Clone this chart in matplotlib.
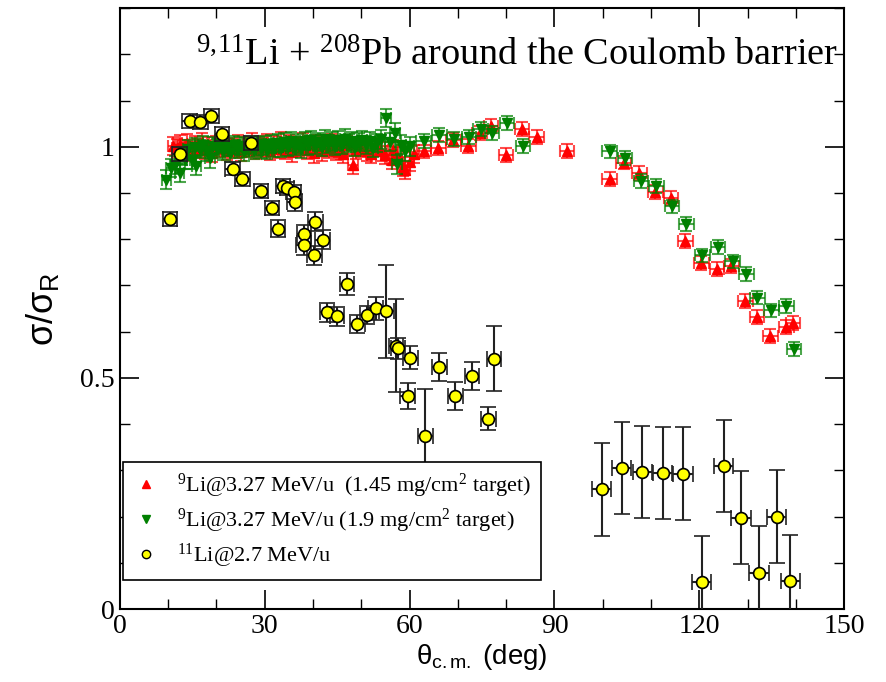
import numpy as np
import matplotlib
matplotlib.use("Agg")
import matplotlib.pyplot as plt
from matplotlib.lines import Line2D
from matplotlib.ticker import MultipleLocator, FixedLocator

plt.rcParams["font.family"] = ["Liberation Serif", "DejaVu Serif"]
plt.rcParams["mathtext.fontset"] = "custom"
plt.rcParams["mathtext.rm"] = "Liberation Serif"
plt.rcParams["mathtext.it"] = "Liberation Serif:italic"
plt.rcParams["mathtext.bf"] = "Liberation Serif:bold"
plt.rcParams["mathtext.sf"] = "Liberation Sans"

# 9Li @ 3.27 MeV/u, 1.45 mg/cm2 target
red_theta = [
    11.0, 11.8, 12.5, 13.3, 14.0, 14.8, 15.5, 16.2, 17.0, 17.7, 18.5, 19.2,
    20.0, 20.7, 21.5, 22.2, 23.0, 23.7, 24.5, 25.2, 26.0, 26.7, 27.5, 28.2,
    29.0, 29.7, 30.5, 31.2, 32.0, 32.7, 33.5, 34.2, 35.0, 35.7, 36.5, 37.2,
    38.0, 38.7, 39.5, 40.2, 41.0, 41.8, 42.5, 43.3, 44.0, 44.8, 45.5, 46.3,
    47.0, 48.3, 49.0, 50.0, 51.2, 52.0, 53.0, 54.2, 55.0, 56.3, 56.6, 57.5,
    58.6, 59.0, 60.0, 61.0, 63.0, 66.0, 69.1, 72.2, 74.5, 76.9, 80.0, 83.3,
    86.3, 92.6, 101.4, 104.3, 107.6, 110.9, 114.1, 117.1, 120.4, 123.6,
    126.6, 129.5, 131.9, 134.7, 138.0, 139.4,
]
red_sigma = [
    1.002, 0.998, 1.005, 0.995, 1.008, 0.990, 1.003, 0.996, 1.010, 0.993, 1.001, 0.987,
    1.004, 0.997, 1.009, 0.992, 1.000, 0.995, 1.006, 0.989, 1.002, 0.998, 1.011, 0.994,
    1.003, 0.999, 1.007, 0.991, 1.004, 0.996, 1.012, 0.993, 1.005, 0.988, 1.002, 0.997,
    1.009, 0.994, 1.003, 0.986, 1.006, 0.990, 1.001, 0.995, 1.008, 0.992, 0.999, 0.985,
    1.004, 0.961, 0.994, 0.998, 0.990, 0.985, 1.000, 0.990, 0.982, 0.972, 0.994, 0.980,
    0.957, 0.950, 0.968, 0.985, 0.990, 0.997, 1.015, 1.001, 1.030, 1.045, 0.983, 1.038,
    1.022, 0.991, 0.930, 0.966, 0.943, 0.903, 0.890, 0.797, 0.748, 0.735,
    0.742, 0.667, 0.631, 0.591, 0.610, 0.618,
]

# 9Li @ 3.27 MeV/u, 1.9 mg/cm2 target
green_theta = [
    9.7, 10.7, 11.4, 12.4, 13.0, 13.5, 14.2, 14.9, 15.5, 15.9, 16.6, 17.3,
    18.0, 18.7, 19.4, 20.1, 20.8, 21.5, 22.2, 22.9, 23.6, 24.3, 25.0, 25.7,
    26.4, 27.1, 27.8, 28.5, 29.2, 29.9, 30.6, 31.3, 32.0, 32.7, 33.4, 34.1,
    34.8, 35.5, 36.2, 36.9, 37.6, 38.3, 39.0, 39.7, 40.4, 41.1, 41.8, 42.5,
    43.2, 43.9, 44.6, 45.3, 46.0, 46.7, 47.4, 48.1, 48.8, 49.5, 50.2, 51.0,
    51.8, 52.5, 53.3, 54.0, 55.2, 56.0, 57.0, 57.4, 58.2, 59.0, 60.0, 62.9,
    66.2, 69.3, 72.3, 74.7, 77.1, 80.2, 83.5, 101.4, 104.6, 107.9, 111.1,
    114.3, 117.3, 120.6, 123.9, 126.9, 129.7, 132.0, 134.9, 138.0, 139.6,
]
green_sigma = [
    0.929, 0.954, 0.961, 0.943, 0.980, 0.972, 0.995, 0.972, 1.000, 0.958, 0.995, 1.003,
    0.990, 0.975, 1.002, 0.996, 1.006, 0.992, 1.000, 0.987, 1.004, 0.995, 1.002, 0.990,
    0.999, 1.004, 0.993, 1.001, 0.996, 1.003, 0.994, 1.006, 0.998, 1.008, 0.997, 1.010,
    1.000, 1.012, 1.002, 1.007, 0.996, 1.013, 1.003, 1.015, 1.005, 1.011, 1.000, 1.016,
    1.006, 1.012, 1.002, 1.014, 1.004, 1.018, 1.008, 1.013, 1.000, 1.010, 1.015, 1.004,
    1.012, 0.998, 1.008, 1.016, 1.062, 1.010, 1.031, 0.962, 1.005, 0.990, 1.001, 1.012,
    1.026, 1.017, 1.022, 1.038, 1.030, 1.051, 1.001, 0.990, 0.975, 0.926, 0.916,
    0.871, 0.833, 0.765, 0.783, 0.752, 0.724, 0.674, 0.646, 0.656, 0.562,
]

# 11Li @ 2.7 MeV/u
yellow_theta = [
    10.4, 12.4, 14.5, 16.7, 19.0, 21.2, 23.4, 25.4, 27.2, 29.3, 31.5, 32.8,
    33.8, 34.6, 36.0, 36.2, 38.2, 38.1, 40.3, 40.5, 42.0, 42.9, 45.0, 47.1,
    49.2, 51.2, 53.0, 55.2, 57.2, 57.6, 59.6, 60.2, 63.3, 66.2, 69.5, 72.9,
    76.3, 77.5, 99.8, 103.9, 108.2, 112.4, 116.6, 120.5, 125.0, 128.6, 132.3,
    136.0, 138.8,
]
yellow_sigma = [
    0.844, 0.984, 1.056, 1.054, 1.066, 1.027, 0.953, 0.930, 1.008, 0.905, 0.867, 0.823,
    0.916, 0.910, 0.903, 0.880, 0.811, 0.787, 0.765, 0.838, 0.799, 0.642, 0.633, 0.703,
    0.617, 0.636, 0.651, 0.644, 0.570, 0.564, 0.461, 0.544, 0.375, 0.524, 0.461, 0.504,
    0.412, 0.542, 0.259, 0.305, 0.297, 0.294, 0.293, 0.058, 0.309, 0.198, 0.079,
    0.200, 0.061,
]
yellow_err = [
    0.015, 0.015, 0.015, 0.015, 0.015, 0.015, 0.015, 0.015, 0.015, 0.015, 0.015, 0.018,
    0.015, 0.015, 0.015, 0.018, 0.020, 0.020, 0.020, 0.020, 0.020, 0.020, 0.020, 0.023,
    0.020, 0.020, 0.025, 0.100, 0.100, 0.022, 0.028, 0.025, 0.100, 0.030, 0.030, 0.030,
    0.025, 0.070, 0.100, 0.100, 0.100, 0.100, 0.100, 0.100, 0.100, 0.100, 0.100,
    0.100, 0.100,
]

red_theta = np.array(red_theta)
green_theta = np.array(green_theta)
yellow_theta = np.array(yellow_theta)

fig = plt.figure(figsize=(8.86, 6.82), dpi=100)
ax = fig.add_axes([0.135, 0.107, 0.818, 0.881])

ax.errorbar(red_theta, red_sigma, xerr=np.where(red_theta > 62, 1.5, 1.0),
            yerr=np.where(red_theta > 62, 0.015, 0.02),
            fmt="^", color="red", ms=7, mec="red", ecolor=(1, 0, 0, 0.7),
            elinewidth=1.5, capsize=4, capthick=1.5, zorder=2)
ax.errorbar(green_theta, green_sigma, xerr=np.where(green_theta > 62, 1.5, 1.0),
            yerr=np.where(green_theta > 62, 0.015, 0.02),
            fmt="v", color="#008000", ms=7, mec="#008000", ecolor=(0, 0.5, 0, 0.7),
            elinewidth=1.5, capsize=4, capthick=1.5, zorder=3)
ax.errorbar(yellow_theta, yellow_sigma, xerr=np.where(yellow_theta > 80, 2.0, 1.5),
            yerr=yellow_err, fmt="o", mfc="yellow", mec="black", mew=1.2, ms=8.5,
            ecolor="#222222", elinewidth=1.5, capsize=6, capthick=1.5, zorder=4)

ax.set_xlim(0, 150)
ax.set_ylim(0, 1.3)
ax.xaxis.set_major_locator(MultipleLocator(30))
ax.xaxis.set_minor_locator(MultipleLocator(10))
ax.yaxis.set_major_locator(FixedLocator([0, 0.5, 1.0]))
ax.yaxis.set_minor_locator(MultipleLocator(0.1))
ax.set_yticklabels(["0", "0.5", "1"])
ax.tick_params(which="both", direction="in", top=True, right=True, labelsize=20)
ax.tick_params(which="major", length=14, width=1.2)
ax.tick_params(which="minor", length=7, width=1.0)
for spine in ax.spines.values():
    spine.set_linewidth(1.5)

sans = ["Liberation Sans", "DejaVu Sans"]
ax.set_xlabel(r"$\mathsf{\theta_{c.m.}}$ (deg)", family=sans, fontsize=20, labelpad=2)
ax.set_ylabel(r"$\mathsf{\sigma/\sigma_R}$", family=sans, fontsize=26, labelpad=14)

ax.text(0.549, 0.92, r"$^{9,\!11}$Li + $^{208}$Pb around the Coulomb barrier",
        transform=ax.transAxes, ha="center", va="center", fontsize=27.5)

handles = [
    Line2D([], [], ls="none", marker="^", color="red", ms=6),
    Line2D([], [], ls="none", marker="v", color="#008000", ms=6),
    Line2D([], [], ls="none", marker="o", mfc="yellow", mec="black", ms=6),
]
labels = [
    r"$^{9}$Li@3.27 MeV/u  (1.45 mg/cm$^{2}$ target)",
    r"$^{9}$Li@3.27 MeV/u (1.9 mg/cm$^{2}$ target)",
    r"$^{11}$Li@2.7 MeV/u",
]
leg = ax.legend(handles, labels, loc="lower left", bbox_to_anchor=(0.004, 0.048),
                borderaxespad=0, fontsize=16, frameon=True, fancybox=False,
                edgecolor="black", framealpha=1, borderpad=0.45, labelspacing=0.3,
                handlelength=1.2, handletextpad=0.8)
leg.get_frame().set_linewidth(1.2)
leg.set_zorder(10)

fig.savefig("out.png", dpi=100)
